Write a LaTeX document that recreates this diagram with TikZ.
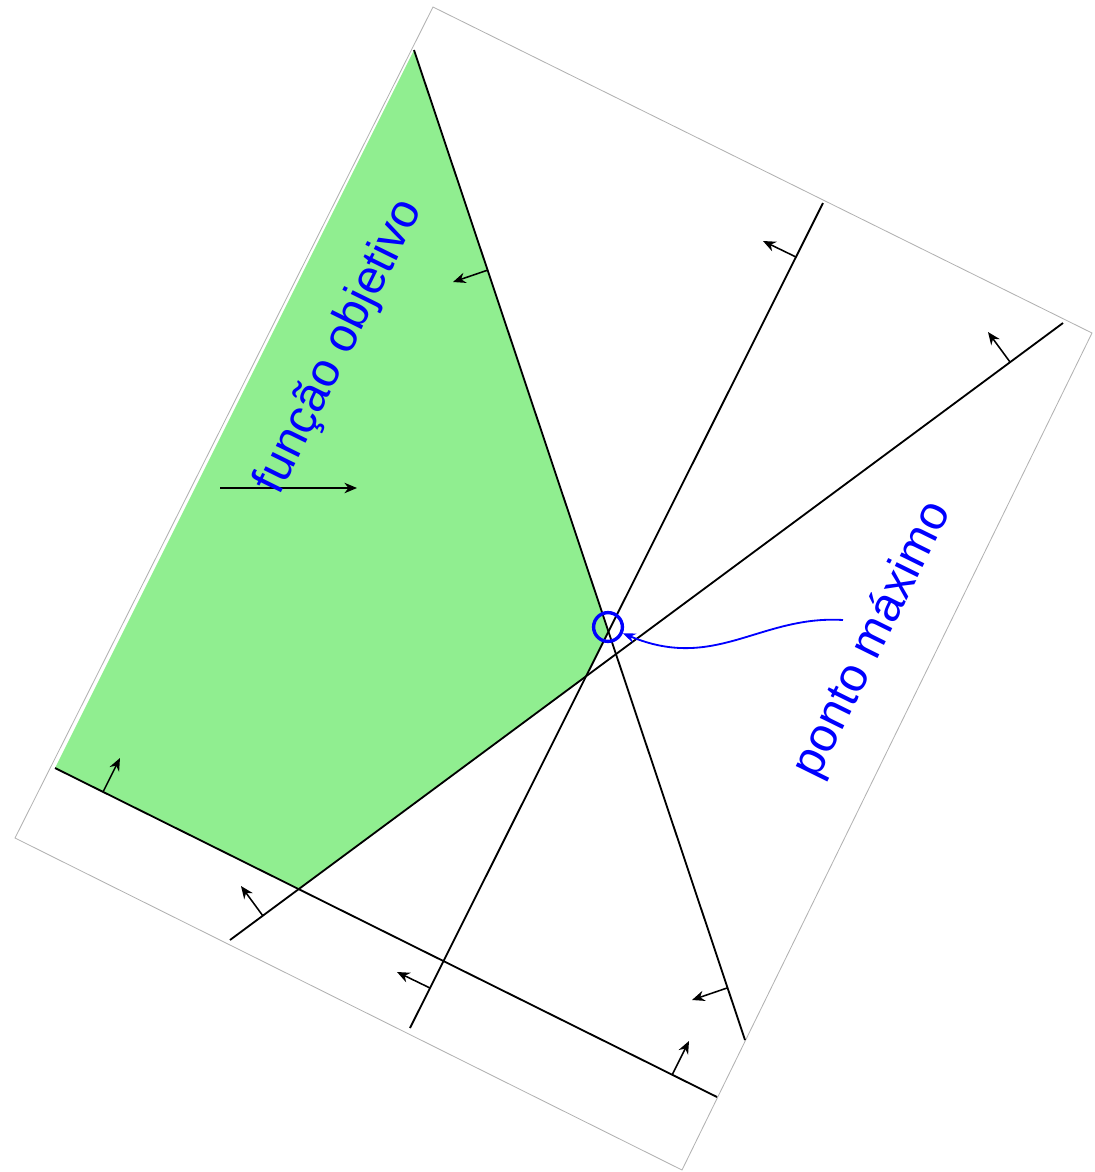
\documentclass[tikz,border=0pt]{standalone}
\usepackage{fontspec}
\setmainfont{Liberation Sans}
\usetikzlibrary{arrows.meta}

\definecolor{feasible}{RGB}{144,238,144}

\begin{document}
\begin{tikzpicture}[
    x = 0.025cm,
    y = -0.025cm,
    frame/.style = {
        draw = black!30,
        line width = 0.6pt
    },
    region/.style = {
        fill = feasible
    },
    constraint/.style = {
        draw = black,
        line width = 1.3pt
    },
    normal/.style = {
        -{Stealth[length = 9pt, width = 7.5pt]},
        line width = 1.1pt
    },
    label/.style = {
        text = blue,
        font = \fontsize{34}{40}\selectfont,
        rotate = 63.7
    },
    marker/.style = {
        circle,
        draw = blue,
        line width = 2.4pt,
        inner sep = 0pt,
        minimum size = 0.72cm
    },
    pointer/.style = {
        -{Stealth[length = 9pt, width = 7pt]},
        blue,
        line width = 1.3pt
    }
]
    \useasboundingbox (0,0) rectangle (1094,1172);

    % Frame
    \coordinate (T) at (433,7);
    \coordinate (R) at (1092,333);
    \coordinate (B) at (682,1170);
    \coordinate (L) at (15,838);
    \draw [frame] (T) -- (R) -- (B) -- (L) -- cycle;

    % Constraint lines
    \coordinate (a1) at (414,50);
    \coordinate (a2) at (745,1040);
    \coordinate (b1) at (823,203);
    \coordinate (b2) at (410,1028);
    \coordinate (c1) at (230,940);
    \coordinate (c2) at (1063,323);
    \coordinate (d1) at (55,768);
    \coordinate (d2) at (717,1097);

    % Corners of the region
    \coordinate (ab) at (608,632);
    \coordinate (bc) at (586,676);
    \coordinate (cd) at (299,889);

    % Region
    \fill [region] (a1) -- (ab) -- (bc) -- (cd) -- (d1) -- cycle;

    \draw [constraint] (a1) -- (a2);
    \draw [constraint] (b1) -- (b2);
    \draw [constraint] (c1) -- (c2);
    \draw [constraint] (d1) -- (d2);

    % Normals
    \coordinate (na1) at (488,270);  \coordinate (ta1) at (453,282);
    \coordinate (na2) at (727,988);  \coordinate (ta2) at (692,1000);
    \coordinate (nb1) at (796,257);  \coordinate (tb1) at (763,241);
    \coordinate (nb2) at (430,988);  \coordinate (tb2) at (397,972);
    \coordinate (nc1) at (1010,362); \coordinate (tc1) at (988,332);
    \coordinate (nc2) at (263,916);  \coordinate (tc2) at (241,886);
    \coordinate (nd1) at (103,792);  \coordinate (td1) at (120,758);
    \coordinate (nd2) at (672,1075); \coordinate (td2) at (689,1041);

    \draw [normal] (na1) -- (ta1);
    \draw [normal] (na2) -- (ta2);
    \draw [normal] (nb1) -- (tb1);
    \draw [normal] (nb2) -- (tb2);
    \draw [normal] (nc1) -- (tc1);
    \draw [normal] (nc2) -- (tc2);
    \draw [normal] (nd1) -- (td1);
    \draw [normal] (nd2) -- (td2);

    % Objective
    \coordinate (o1) at (220,488);
    \coordinate (o2) at (357,488);
    \draw [normal, line width = 0.9pt] (o1) -- (o2);
    \node [label] (obj) at (340,347) {função objetivo};

    % Maximum
    \node [marker] (max) at (608,627) {};
    \node [label] (maxlabel) at (873,640) {ponto máximo};
    \coordinate (p1) at (843,620);
    \draw [pointer] (p1) .. controls (760,615) and (715,672) .. (max);

\end{tikzpicture}
\end{document}
